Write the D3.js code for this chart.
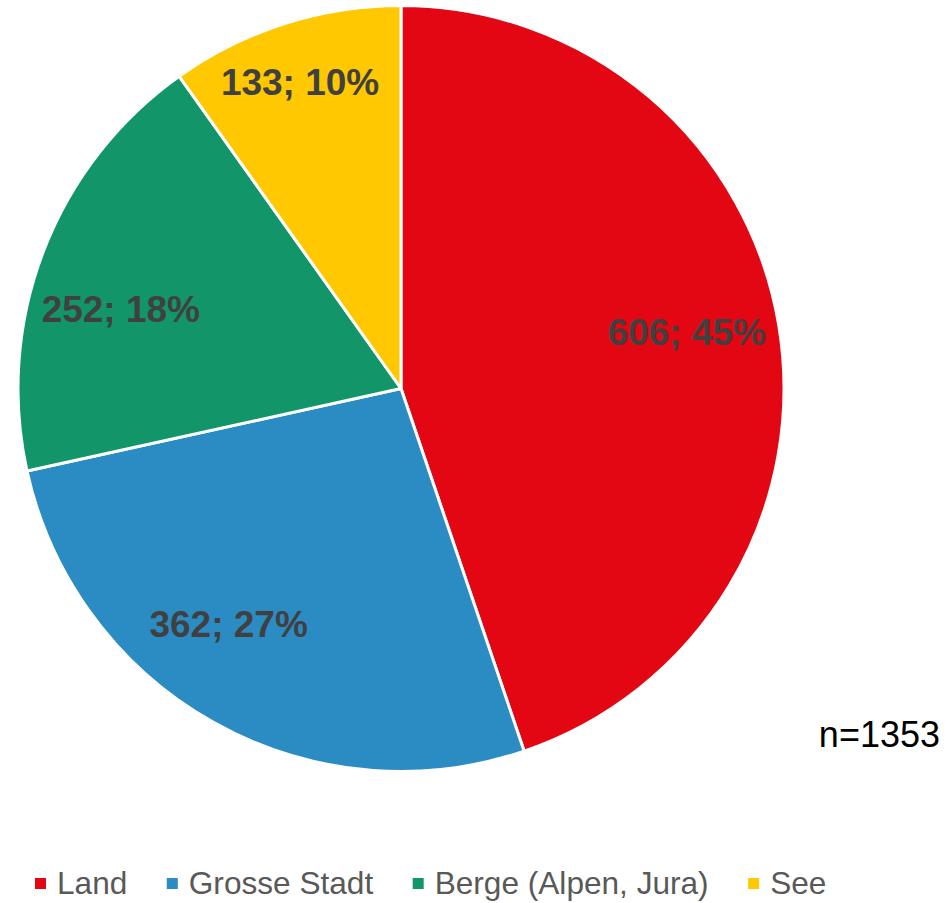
<!DOCTYPE html>
<html>
<head>
<meta charset="utf-8">
<script src="https://cdn.jsdelivr.net/npm/d3@7"></script>
<style>
  html, body { margin: 0; padding: 0; background: #ffffff; }
  svg { display: block; }
</style>
</head>
<body>
<script>
// ---- data ----
const categories = ["Land", "Grosse Stadt", "Berge (Alpen, Jura)", "See"];
const values = [606, 362, 252, 133];
const percentLabels = ["45%", "27%", "18%", "10%"];
const colors = ["#E30613", "#2B8CC4", "#13956A", "#FFC800"];
const noteText = "n=1353";

// ---- layout ----
const W = 948, H = 903;
const cx = 401, cy = 388.5, R = 383;
// label placement tweaks (radius factor, angle shift in degrees)
const labelPlace = [[0.761, -1.9], [0.762, 6.8], [0.761, -5.1], [0.844, -0.5]];

const svg = d3.select("body").append("svg").attr("width", W).attr("height", H);
const data = categories.map((c, i) => ({ cat: c, value: values[i], pct: percentLabels[i], color: colors[i], i }));

const pie = d3.pie().value(d => d.value).sort(null);
const arc = d3.arc().innerRadius(0).outerRadius(R);
const arcs = pie(data);

const g = svg.append("g").attr("transform", `translate(${cx},${cy})`);
g.selectAll("path").data(arcs).join("path")
  .attr("d", arc)
  .attr("fill", d => d.data.color)
  .attr("stroke", "#ffffff")
  .attr("stroke-width", 3)
  .attr("stroke-linejoin", "round");

g.selectAll("text.lbl").data(arcs).join("text")
  .attr("class", "lbl")
  .attr("x", d => {
    const [k, s] = labelPlace[d.data.i];
    const a = (d.startAngle + d.endAngle) / 2 + s * Math.PI / 180;
    return Math.sin(a) * R * k;
  })
  .attr("y", d => {
    const [k, s] = labelPlace[d.data.i];
    const a = (d.startAngle + d.endAngle) / 2 + s * Math.PI / 180;
    return -Math.cos(a) * R * k;
  })
  .attr("dy", "0.36em")
  .attr("text-anchor", "middle")
  .attr("font-family", "Liberation Sans, Arial, sans-serif")
  .attr("font-weight", "bold")
  .attr("font-size", 37)
  .attr("fill", "#404040")
  .text(d => `${d.data.value}; ${d.data.pct}`);

// note
svg.append("text")
  .attr("x", 940).attr("y", 747)
  .attr("text-anchor", "end")
  .attr("font-family", "Liberation Sans, Arial, sans-serif")
  .attr("font-size", 36)
  .attr("fill", "#000000")
  .text(noteText);

// legend
const legend = svg.append("g");
let x = 35;
const sq = 11, gapText = 22, gapItem = 39.5, baseY = 894;
data.forEach(d => {
  legend.append("rect").attr("x", x).attr("y", 878).attr("width", sq).attr("height", sq).attr("fill", d.color);
  const t = legend.append("text")
    .attr("x", x + gapText).attr("y", baseY)
    .attr("font-family", "Liberation Sans, Arial, sans-serif")
    .attr("font-size", 31.6)
    .attr("fill", "#595959")
    .text(d.cat);
  x = x + gapText + t.node().getComputedTextLength() + gapItem;
});
</script>
</body>
</html>
